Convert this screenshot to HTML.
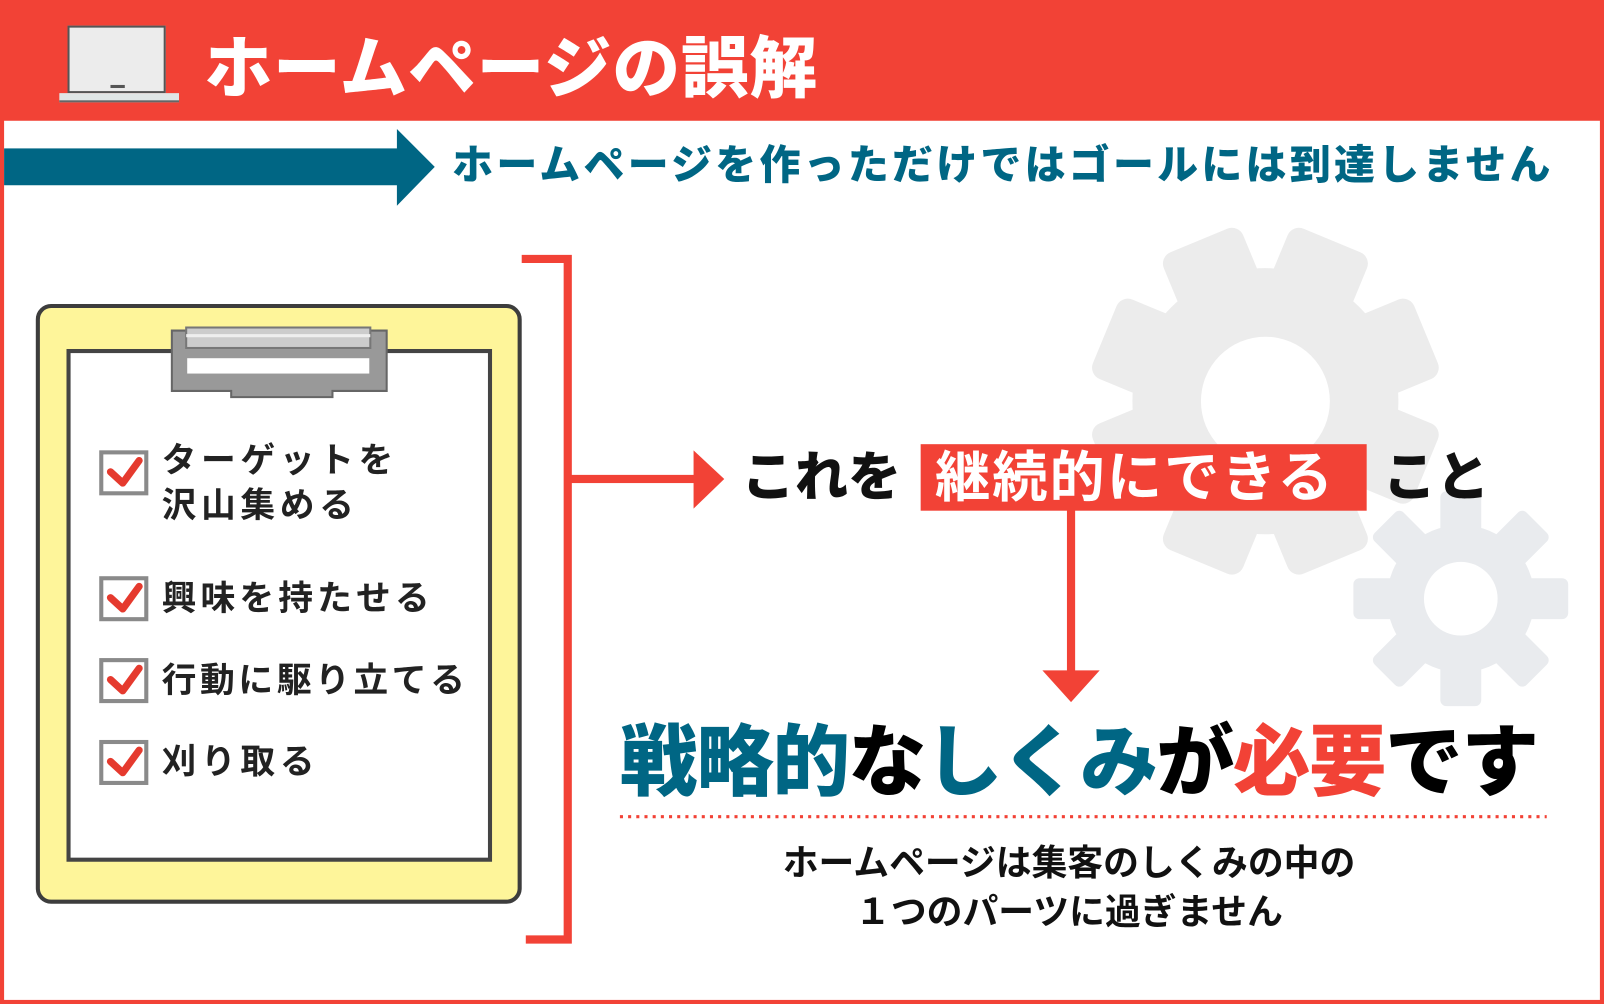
<!DOCTYPE html>
<html><head><meta charset="utf-8">
<style>
html,body{margin:0;padding:0;background:#fff;overflow:hidden;width:1604px;height:1004px}
#s{position:absolute;left:0;top:0;width:1568px;height:981px;transform:scale(1.02296,1.02345);transform-origin:0 0;font-family:"Liberation Sans","Noto Sans CJK JP",sans-serif;}
.a{position:absolute;white-space:nowrap;}
.t{font-size:34px;font-weight:700;color:#222;line-height:44px;}
.cb{position:absolute;width:40px;height:36px;border:4px solid #8a8a8a;background:#fff;}
</style></head><body>
<div id="s">
<div class="a" style="left:0;top:0;width:1568px;height:981px;box-sizing:border-box;border:4px solid #f24236;"></div>
<div class="a" style="left:0;top:0;width:1568px;height:118px;background:#f24236;"></div>
<div class="a" style="left:66px;top:25px;width:96px;height:66px;background:#ececec;border:2px solid #555;box-sizing:border-box;"></div>
<div class="a" style="left:108px;top:83px;width:14px;height:3px;background:#555;"></div>
<div class="a" style="left:58px;top:91px;width:117px;height:7px;background:#e0e6e6;border-bottom:2px solid #666;"></div>
<div class="a" style="left:200px;top:22px;font-size:66px;font-weight:900;color:#fff;line-height:90px;letter-spacing:1px;">ホームページの誤解</div>
<svg class="a" style="left:0;top:0" width="1568" height="981">
<rect x="4" y="145" width="390" height="36" fill="#006684"/>
<polygon points="388,126 425,163 388,201" fill="#006684"/>
<g fill="#ececec" transform="translate(1237,392)">
<g id="bt"><rect x="-42" y="-170" width="84" height="80" rx="12" transform="rotate(22.5)"/></g>
<use href="#bt" transform="rotate(45)"/><use href="#bt" transform="rotate(90)"/><use href="#bt" transform="rotate(135)"/>
<use href="#bt" transform="rotate(180)"/><use href="#bt" transform="rotate(225)"/><use href="#bt" transform="rotate(270)"/><use href="#bt" transform="rotate(315)"/>
<circle r="130"/>
<circle r="63" fill="#fff"/>
</g>
<g fill="#e9ebee" transform="translate(1428,585)">
<g id="st"><rect x="-20" y="-105" width="40" height="50" rx="6"/></g>
<use href="#st" transform="rotate(45)"/><use href="#st" transform="rotate(90)"/><use href="#st" transform="rotate(135)"/>
<use href="#st" transform="rotate(180)"/><use href="#st" transform="rotate(225)"/><use href="#st" transform="rotate(270)"/><use href="#st" transform="rotate(315)"/>
<circle r="72"/>
<circle r="36" fill="#fff"/>
</g>
<path d="M510,253 H555 V918 H514" fill="none" stroke="#f24236" stroke-width="8"/>
<rect x="555" y="464" width="125" height="8" fill="#f24236"/>
<polygon points="678,440 708,468 678,497" fill="#f24236"/>
<rect x="1043" y="497" width="8" height="160" fill="#f24236"/>
<polygon points="1019,655 1075,655 1047,686" fill="#f24236"/>
<line x1="606" y1="798" x2="1512" y2="798" stroke="#f24236" stroke-width="3" stroke-dasharray="3 5"/>
<rect x="37" y="299" width="471" height="582" rx="13" fill="#fef59a" stroke="#3d3d3d" stroke-width="4"/>
<rect x="67" y="343" width="412" height="497" fill="#fff" stroke="#444" stroke-width="4"/>
<path d="M168,323 H378 V382 H325 V388 H226 V382 H168 Z" fill="#999" stroke="#666" stroke-width="2"/>
<rect x="182" y="320" width="180" height="20" fill="#ccc" stroke="#777" stroke-width="2"/>
<rect x="183" y="350" width="178" height="15" fill="#fff"/>
<line x1="182" y1="328" x2="362" y2="328" stroke="#eee" stroke-width="3"/>
</svg>
<div class="a" style="left:442px;top:136px;font-size:40px;font-weight:900;color:#006684;line-height:52px;letter-spacing:3.2px;">ホームページを作っただけではゴールには到達しません</div>
<div class="cb" style="left:97px;top:440px"></div>
<div class="cb" style="left:97px;top:563px"></div>
<div class="cb" style="left:97px;top:643px"></div>
<div class="cb" style="left:97px;top:723px"></div>
<svg class="a" style="left:0;top:0" width="600" height="981">
<g fill="none" stroke="#e53a2e" stroke-width="7" stroke-linecap="round" stroke-linejoin="round">
<path d="M108,461 L120,472 L136,450"/>
<path d="M108,584 L120,595 L136,573"/>
<path d="M108,664 L120,675 L136,653"/>
<path d="M108,744 L120,755 L136,733"/>
</g></svg>
<div class="a t" style="left:158px;top:428px;letter-spacing:4.5px;">ターゲットを<br>沢山集める</div>
<div class="a t" style="left:158px;top:563px;letter-spacing:4px;">興味を持たせる</div>
<div class="a t" style="left:158px;top:643px;letter-spacing:3.5px;">行動に駆り立てる</div>
<div class="a t" style="left:158px;top:723px;letter-spacing:4.5px;">刈り取る</div>
<div class="a" style="left:725px;top:434px;font-size:52px;font-weight:900;color:#111;line-height:66px;">これを</div>
<div class="a" style="left:900px;top:434px;width:436px;height:65px;background:#f24236;"></div>
<div class="a" style="left:914px;top:434px;font-size:54px;font-weight:700;color:#fff;line-height:66px;letter-spacing:2px;">継続的にできる</div>
<div class="a" style="left:1352px;top:434px;font-size:52px;font-weight:900;color:#111;line-height:66px;">こと</div>
<div class="a" style="left:606px;top:700px;font-size:76px;font-weight:900;line-height:92px;letter-spacing:-1.5px;"><span style="color:#006684">戦略的</span><span style="color:#000">な</span><span style="color:#006684">しくみ</span><span style="color:#000">が</span><span style="color:#f24236">必要</span><span style="color:#000">です</span></div>
<div class="a" style="left:645px;top:820px;width:800px;text-align:center;font-size:35px;font-weight:700;color:#111;line-height:48px;">ホームページは集客のしくみの中の<br>１つのパーツに過ぎません</div>
</div>
</body></html>
